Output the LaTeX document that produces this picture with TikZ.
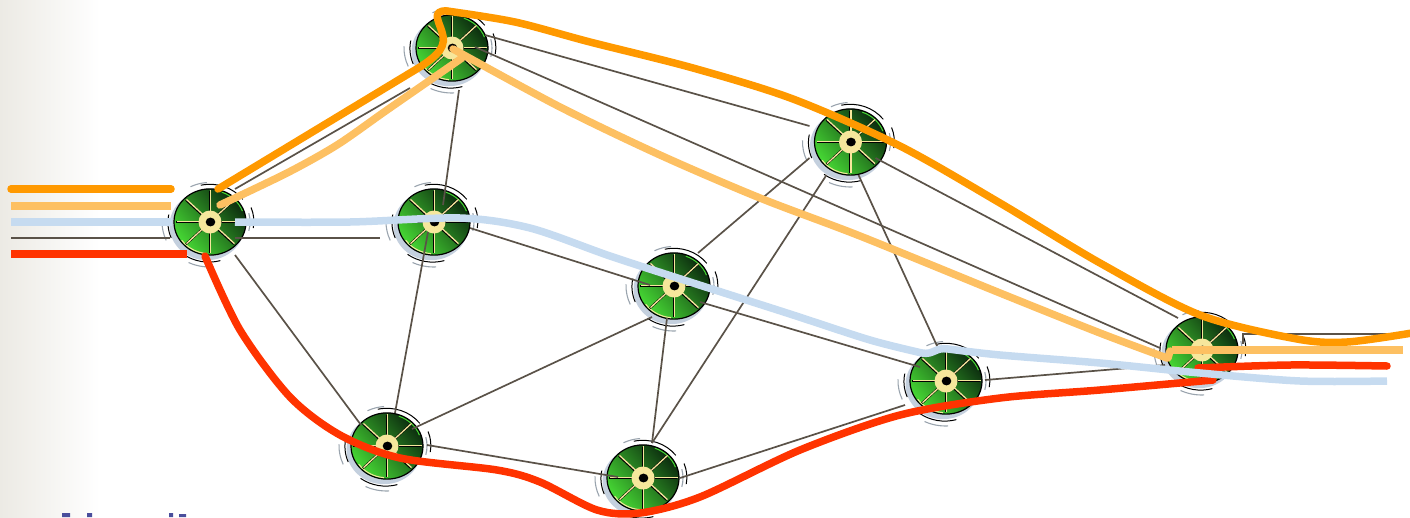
\documentclass[tikz,border=0pt]{standalone}
\definecolor{fadegrey}{HTML}{ECEAE4}
\definecolor{linkgrey}{HTML}{5A5248}
\definecolor{cream}{HTML}{F6E79C}
\definecolor{halo}{HTML}{C4D0DE}
\definecolor{arcgrey}{HTML}{9AA4AE}
\definecolor{discdark}{HTML}{0B2A0E}
\definecolor{discmid}{HTML}{26862C}
\definecolor{disclight}{HTML}{46D834}
\definecolor{flowO}{HTML}{FF9900}
\definecolor{flowL}{HTML}{FDC062}
\definecolor{flowB}{HTML}{C6DBF0}
\definecolor{flowR}{HTML}{FF3300}
\definecolor{textnavy}{HTML}{4A4E9C}
\tikzset{
  link/.style={draw=linkgrey,line width=1.7pt},
  flow/.style={line width=7.5pt},
  hubnode/.style={circle,fill=cream,inner sep=0pt,minimum size=23pt},
  arcB/.style={black,line width=1pt},
  arcG/.style={arcgrey,line width=1.1pt},
}
\newcommand{\router}[3]{%
  \begin{scope}[shift={(#2,#3)},x=1pt,y=0.92pt]
    \fill[halo] (-3,-4) circle (37.5);
    \fill[white] (0.5,0.5) circle (36.5);
    \shade[top color=discdark,middle color=discmid,bottom color=disclight,shading angle=-50] (0,0) circle (36);
    \draw[black,line width=1.2pt] (0,0) circle (36);
    \draw[disclight,line width=1pt] (20:34.5) arc (20:70:34.5);
    \draw[cream,line width=1pt] (215:34.5) arc (215:265:34.5);
    \draw[arcB] (103:41) arc (103:37:41);
    \draw[arcG] (117:43) arc (117:94:43);
    \draw[arcB] (21:44) arc (21:-10:42);
    \draw[arcG] (14:40) arc (14:-14:40);
    \draw[arcB] (169:42) arc (169:202:45);
    \draw[arcG] (178:48) arc (178:204:49);
    \draw[arcB] (233:44) arc (233:286:42);
    \draw[arcG] (244:49) arc (244:273:48);
    \foreach \a in {0,45,...,315}{
      \draw[black,line width=2.2pt] (\a:11) -- (\a:34);
      \draw[cream,line width=1.3pt] ([shift={(0.5,0.5)}]\a:11) -- ([shift={(0.5,0.5)}]\a:34);
    }
    \node[hubnode] (#1) at (0,0) {};
    \fill[black] (0.5,0) circle (4.8);
  \end{scope}}
\begin{document}
\begin{tikzpicture}[x=1pt,y=-1pt]
\useasboundingbox (0,0) rectangle (1410,517);
\shade[left color=fadegrey,right color=white] (0,0) rectangle (100,517);
% cut-off lettering at the lower edge
\fill[textnavy] (62,513) rectangle (70,517) (87,513) rectangle (92,517) (169,513) rectangle (173,517) (179,514) rectangle (186,517);

\router{R1}{210}{222}
\router{R2}{452}{48}
\router{R3}{434}{222}
\router{R4}{850.5}{142}
\router{R5}{674}{286}
\router{R6}{387}{446}
\router{R7}{643}{478}
\router{R8}{946}{381}
\router{R9}{1202}{350}

% links
\draw[link] ([shift={(25,-33)}]R1.center) -- ([shift={(-42,40)}]R2.center);
\draw[link] ([shift={(25,16)}]R1.center) -- ([shift={(-54,16)}]R3.center);
\draw[link] ([shift={(25,33)}]R1.center) -- ([shift={(-26,-21)}]R6.center);
\draw[link] ([shift={(7,42)}]R2.center) -- ([shift={(9,-17)}]R3.center);
\draw[link] ([shift={(33,-13)}]R2.center) -- ([shift={(-41,-16)}]R4.center);
\draw[link] ([shift={(23,-1)}]R2.center) -- ([shift={(-42,-2)}]R9.center);
\draw[link] ([shift={(36,6)}]R3.center) -- ([shift={(-24,-1)}]R5.center);
\draw[link] ([shift={(-6,10)}]R3.center) -- ([shift={(8,-33)}]R6.center);
\draw[link] ([shift={(-41,16)}]R4.center) -- ([shift={(24,-33)}]R5.center);
\draw[link] ([shift={(-24,33)}]R4.center) -- ([shift={(9,-35)}]R7.center);
\draw[link] ([shift={(8,33)}]R4.center) -- ([shift={(-8,-33)}]R8.center);
\draw[link] ([shift={(25,16)}]R4.center) -- ([shift={(-24,-32)}]R9.center);
\draw[link] ([shift={(-22,31)}]R5.center) -- ([shift={(25,-17)}]R6.center);
\draw[link] ([shift={(-7,32)}]R5.center) -- ([shift={(9,-35)}]R7.center);
\draw[link] ([shift={(26,16)}]R5.center) -- ([shift={(-26,-14)}]R8.center);
\draw[link] ([shift={(40,-1)}]R6.center) -- ([shift={(-25,-1)}]R7.center);
\draw[link] ([shift={(37,0)}]R7.center) -- ([shift={(-41,24)}]R8.center);
\draw[link] ([shift={(39,-1)}]R8.center) -- ([shift={(-37,15)}]R9.center);

% free ends of the flows
\coordinate (inO) at (11,189);   \coordinate (inOe) at (171,189);
\coordinate (inL) at (11,206);   \coordinate (inLe) at (171,206);
\coordinate (inB) at (11,222);   \coordinate (inBe) at (172,222);
\coordinate (inG) at (11,238);   \coordinate (inGe) at (170,238);
\coordinate (inR) at (11,254);   \coordinate (inRe) at (187,254);
\coordinate (outG) at (1387,334);
\coordinate (outL) at (1403,350);
\coordinate (outR) at (1387,366);
\coordinate (outB) at (1387,381);
\coordinate (outO) at (1412,333);

% grey flow ends
\draw[link] (inG) -- (inGe);
\draw[link] ([shift={(41,-6)}]R9.center) -- ([shift={(41,-16)}]R9.center) -- (outG);

% orange
\draw[flow,flowO,line cap=round] (inO) -- (inOe);
\draw[flow,flowO,line cap=round,line join=round] ([shift={(8,-33)}]R1.center) -- (410,73)
  .. controls (432,60) and (446,50) .. (443,36)
  .. controls (441,24) and (429,10) .. (447,11);
\draw[flow,flowO,line cap=round,smooth,tension=0.5] plot coordinates {
  (447,11) (515,22) (590,42) (693,68) (793,99) (900,146) (1000,203) (1100,263) (1200,315) (1297,339) (1347,342) (outO)};
% light orange
\draw[flow,flowL] (inL) -- (inLe);
\draw[flow,flowL,line cap=round,smooth,tension=0.5] plot coordinates {
  ([shift={(10,-17)}]R1.center) (287,173) (337,145) (387,110) (462,58)};
\draw[flow,flowL,line cap=round,smooth,tension=0.5] plot coordinates {
  ([shift={(1,1)}]R2.center) (560,107) (660,155) (760,198) (860,236) (1000,293) (1100,333) (1167,358)};
\draw[flow,flowL,line cap=round] (1168,358) -- (1170,351);
\draw[flow,flowL] (1172,350) -- (outL);
% red
\draw[flow,flowR] (inR) -- (inRe);
\draw[flow,flowR,line cap=round,smooth,tension=0.5] plot coordinates {
  ([shift={(-5,34)}]R1.center) (240,330) (290,397) (340,435) (400,458) (497,470) (540,482)
  (597,510) (640,513) (700,497) (800,450) (900,415) (1000,398) (1100,390) (1213,380)};
\draw[flow,flowR,line cap=round,smooth,tension=0.5] plot coordinates {
  ([shift={(-4,18)}]R9.center) (1290,365) (outR)};
% blue
\draw[flow,flowB] (inB) -- (inBe);
\draw[flow,flowB,smooth,tension=0.5] plot coordinates {
  ([shift={(25,0)}]R1.center) (350,222) (460,218) (530,228) (610,256) (690,282) (790,314) (870,340) (922,353)};
\draw[flow,flowB,line cap=round] (922,353) .. controls (934,355) and (935,347) .. (948,349);
\draw[flow,flowB,smooth,tension=0.5] plot coordinates {
  (948,349) (1000,355) (1100,363) (1200,373) (1300,381) (outB)};
\end{tikzpicture}
\end{document}
